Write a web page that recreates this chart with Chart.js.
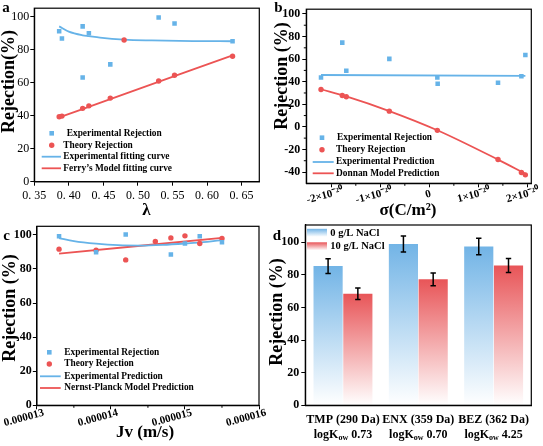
<!DOCTYPE html>
<html><head><meta charset="utf-8">
<script src="https://cdn.jsdelivr.net/npm/chart.js@4.4.0/dist/chart.umd.min.js"></script>
<style>
html,body{margin:0;padding:0;background:#fff;overflow:hidden}
#wrap{position:relative;width:543px;height:446px;background:#fff}
canvas{position:absolute;left:0;top:0}
</style></head><body>
<div id="wrap">
<canvas id="ca" width="543" height="446"></canvas>
<canvas id="cb" width="543" height="446"></canvas>
<canvas id="cc" width="543" height="446"></canvas>
<canvas id="cd" width="543" height="446"></canvas>
</div>
<script>
const W = 543, H = 446;
const SERIF = '"Liberation Serif","Times New Roman",serif';
const BLUE = '#66B3E8', RED = '#EC5454';

// ---------- Panel a ----------
const aExpLambda = [0.386, 0.390, 0.420, 0.420, 0.429, 0.460, 0.530, 0.553, 0.637];
const aExpRej    = [91.0, 86.6, 94.0, 63.0, 89.9, 71.0, 99.4, 95.7, 85.0];
const aTheoLambda = [0.386, 0.390, 0.420, 0.429, 0.460, 0.480, 0.530, 0.553, 0.637];
const aTheoRej    = [39.3, 39.7, 44.4, 45.9, 50.6, 85.8, 60.9, 64.4, 75.9];
const aExpFitLambda = [0.386, 0.400, 0.420, 0.429, 0.445, 0.480, 0.520, 0.580, 0.637];
const aExpFitRej    = [94.0, 90.8, 88.6, 88.1, 87.2, 86.0, 85.5, 85.1, 85.0];
const aFerryLambda = [0.386, 0.460, 0.637];
const aFerryRej    = [38.9, 50.0, 76.5];
const aXTicks = [0.35, 0.40, 0.45, 0.50, 0.55, 0.60, 0.65];
const aXTickLabels = ['0. 35', '0. 40', '0. 45', '0. 50', '0. 55', '0. 60', '0. 65'];
const yTicks100 = [0, 20, 40, 60, 80, 100];

// ---------- Panel b (sigma in units of 1e-20 C/m2) ----------
const bExpSigma = [-2.21, -1.776, -1.694, -0.816, 0.163, 0.170, 1.401, 1.878, 1.959];
const bExpRej   = [43.8, 74.6, 49.7, 60.2, 43.8, 38.1, 39.0, 44.9, 63.6];
const bTheoSigma = [-2.21, -1.776, -1.694, -0.816, 0.163, 1.401, 1.878, 1.959];
const bTheoRej   = [33.1, 27.8, 26.6, 13.9, -3.1, -28.9, -40.5, -42.5];
const bExpPredSigma = [-2.21, 1.959];
const bExpPredRej   = [45.9, 45.1];
const bDonnanSigma = [-2.21, -1.694, -0.816, 0.163, 1.401, 1.959];
const bDonnanRej   = [33.3, 27.0, 14.0, -3.0, -29.0, -41.5];
const bXTicks = [-2, -1, 0, 1, 2];
const bXTickLabels = ['-2×10⁻²⁰', '-1×10⁻²⁰', '0\u2002\u2002', '1×10⁻²⁰', '2×10⁻²⁰'];
const bYTicks = [-40, -20, 0, 20, 40, 60, 80, 100];

// ---------- Panel c ----------
const cExpJv  = [1.330e-5, 1.380e-5, 1.420e-5, 1.481e-5, 1.500e-5, 1.520e-5, 1.550e-5];
const cExpRej = [99.2, 89.8, 100.2, 88.5, 94.9, 99.2, 95.7];
const cTheoJv  = [1.330e-5, 1.380e-5, 1.420e-5, 1.460e-5, 1.481e-5, 1.500e-5, 1.520e-5, 1.550e-5];
const cTheoRej = [91.6, 91.0, 85.3, 96.1, 98.2, 99.4, 94.9, 97.8];
const cExpPredJv  = [1.33e-5, 1.35e-5, 1.38e-5, 1.41e-5, 1.44e-5, 1.47e-5, 1.50e-5, 1.53e-5, 1.55e-5];
const cExpPredRej = [98.0, 96.3, 94.8, 93.9, 93.7, 94.1, 94.9, 95.9, 96.9];
const cNPJv  = [1.33e-5, 1.55e-5];
const cNPRej = [89.0, 98.2];
const cXTicks = [1.3e-5, 1.4e-5, 1.5e-5, 1.6e-5];
const cXTickLabels = ['0.000013', '0.000014', '0.000015', '0.000016'];

// ---------- Panel d ----------
const dCats = ['TMP (290 Da)', 'ENX (359 Da)', 'BEZ (362 Da)'];
const dLogKow = ['0.73', '0.70', '4.25'];
const dSeriesNames = ['0 g/L NaCl', '10 g/L NaCl'];
const d0   = [85.4, 99.0, 97.4];
const d0Err = [4.5, 4.9, 5.0];
const d10  = [68.4, 77.3, 85.7];
const d10Err = [3.5, 3.9, 4.3];

function pts(xs, ys) { return xs.map((x, i) => ({x: x, y: ys[i]})); }

function decoPlugin(cfg) {
  return {
    id: 'deco',
    afterDraw(chart) {
      const c = chart.ctx, a = chart.chartArea;
      c.save();
      c.strokeStyle = '#000'; c.lineWidth = 1.2;
      c.strokeRect(a.left, a.top, a.right - a.left, a.bottom - a.top);
      c.lineWidth = 1;
      const drawMinor = (scale, horiz) => {
        const t = scale.ticks.map(o => o.value);
        for (let i = 0; i < t.length - 1; i++) {
          const v = (t[i] + t[i + 1]) / 2;
          const p = scale.getPixelForValue(v);
          c.beginPath();
          if (horiz) { c.moveTo(p, a.bottom); c.lineTo(p, a.bottom + 2.5); }
          else { c.moveTo(a.left, p); c.lineTo(a.left - 2.5, p); }
          c.stroke();
        }
      };
      if (cfg.minorX) drawMinor(chart.scales.x, true);
      if (cfg.minorY) drawMinor(chart.scales.y, false);
      c.fillStyle = '#000'; c.textAlign = 'center'; c.textBaseline = 'middle';
      c.font = 'bold 15px ' + SERIF;
      c.fillText(cfg.letter, cfg.letterX, cfg.letterY);
      if (cfg.xTitle) {
        c.font = 'bold 17px ' + SERIF;
        c.fillText(cfg.xTitle, cfg.xTitleX, cfg.xTitleY);
      }
      c.save();
      c.translate(cfg.yTitleX, cfg.yTitleY); c.rotate(-Math.PI / 2);
      c.font = 'bold 18px ' + SERIF;
      c.fillText(cfg.yTitle, 0, 0);
      c.restore();
      (cfg.legend || []).forEach(it => {
        c.fillStyle = it.color; c.strokeStyle = it.color;
        if (it.type === 'rect') {
          c.fillRect(it.mx - 2.3, it.my - 2.3, 4.6, 4.6);
        } else if (it.type === 'circle') {
          c.beginPath(); c.arc(it.mx, it.my, 2.7, 0, Math.PI * 2); c.fill();
        } else if (it.type === 'line') {
          c.lineWidth = 1.8; c.beginPath(); c.moveTo(it.x1, it.my); c.lineTo(it.x2, it.my); c.stroke();
        } else if (it.type === 'grad') {
          const g = c.createLinearGradient(0, it.my - 4, 0, it.my + 4);
          g.addColorStop(0, it.color); g.addColorStop(1, '#ffffff');
          c.fillStyle = g; c.fillRect(it.x1, it.my - 4, it.x2 - it.x1, 8);
        }
        c.fillStyle = '#000'; c.textAlign = 'left'; c.textBaseline = 'middle';
        c.font = 'bold ' + (it.size || 9.4) + 'px ' + SERIF;
        c.fillText(it.label, it.tx, it.my);
      });
      if (cfg.extra) cfg.extra(chart, c);
      c.restore();
    }
  };
}

function axisCommon(extra) {
  return Object.assign({
    grid: {display: true, drawOnChartArea: false, drawTicks: true, tickLength: 4, color: '#000', lineWidth: 1},
    border: {display: true, color: '#000', width: 1.2}
  }, extra);
}

function makeScatter(id, rect, xo, yo, datasets, deco) {
  return new Chart(document.getElementById(id), {
    type: 'scatter',
    data: {datasets: datasets},
    options: {
      responsive: false, animation: false, events: [],
      layout: {padding: {left: 0, top: rect.T, right: W - rect.R, bottom: 0}},
      plugins: {legend: {display: false}, tooltip: {enabled: false}},
      scales: {
        x: axisCommon({
          type: 'linear', min: xo.min, max: xo.max,
          afterFit: s => { s.height = H - rect.B; },
          afterBuildTicks: s => { s.ticks = xo.ticks.map(v => ({value: v})); },
          ticks: {autoSkip: false, minRotation: xo.rot || 0, maxRotation: xo.rot || 0,
                  labelOffset: xo.off || 0,
                  callback: (v, i) => xo.labels[i], color: '#000', padding: xo.pad,
                  font: {family: SERIF, size: xo.size || 12, weight: xo.weight || 'normal'}}
        }),
        y: axisCommon({
          type: 'linear', min: yo.min, max: yo.max,
          afterFit: s => { s.width = rect.L; },
          afterBuildTicks: s => { s.ticks = yo.ticks.map(v => ({value: v})); },
          ticks: {autoSkip: false, callback: v => String(v), color: '#000', padding: yo.pad || 1,
                  font: {family: SERIF, size: 12, weight: yo.weight || 'normal'}}
        })
      }
    },
    plugins: [decoPlugin(deco)]
  });
}

function ptSet(label, xs, ys, color, style, r) {
  return {label: label, data: pts(xs, ys), showLine: false, pointStyle: style,
          pointRadius: r, pointBackgroundColor: color, pointBorderColor: color, pointBorderWidth: 0};
}
function lineSet(label, xs, ys, color) {
  return {label: label, data: pts(xs, ys), showLine: true, pointRadius: 0, borderColor: color,
          borderWidth: 1.8, tension: 0.4, cubicInterpolationMode: 'monotone', fill: false};
}

// Panel a
makeScatter('ca', {L: 34.3, T: 1.7, R: 259.3, B: 181.7},
  {min: 0.35, max: 0.6757, ticks: aXTicks, labels: aXTickLabels, pad: 3},
  {min: 0, max: 105, ticks: yTicks100},
  [ptSet('Experimental Rejection', aExpLambda, aExpRej, BLUE, 'rect', 3.2),
   ptSet('Theory Rejection', aTheoLambda, aTheoRej, RED, 'circle', 2.7),
   lineSet('Experimental fitting curve', aExpFitLambda, aExpFitRej, BLUE),
   lineSet("Ferry's Model fitting curve", aFerryLambda, aFerryRej, RED)],
  {letter: 'a', letterX: 6, letterY: 8.5, xTitle: 'λ', xTitleX: 146.5, xTitleY: 211,
   yTitle: 'Rejection(%)', yTitleX: 9.5, yTitleY: 81.5,
   legend: [
     {type: 'rect', color: BLUE, mx: 51.7, my: 133.3, tx: 66.7, label: 'Experimental Rejection'},
     {type: 'circle', color: RED, mx: 51.7, my: 145.3, tx: 63.3, label: 'Theory Rejection'},
     {type: 'line', color: BLUE, x1: 41.7, x2: 61, my: 156.7, tx: 63.3, label: 'Experimental fitting curve'},
     {type: 'line', color: RED, x1: 41.7, x2: 61, my: 168.3, tx: 63.3, label: 'Ferry’s Model fitting curve'}
   ]});

// Panel b
makeScatter('cb', {L: 306.3, T: 1.7, R: 531.3, B: 183.3},
  {min: -2.51, max: 2.08, ticks: bXTicks, labels: bXTickLabels, rot: 15, weight: 'bold', size: 11, pad: -3, off: 12},
  {min: -50, max: 104.2, ticks: bYTicks, weight: 'bold', pad: 2},
  [ptSet('Experimental Rejection', bExpSigma, bExpRej, BLUE, 'rect', 3.2),
   ptSet('Theory Rejection', bTheoSigma, bTheoRej, RED, 'circle', 2.7),
   lineSet('Experimental Prediction', bExpPredSigma, bExpPredRej, BLUE),
   lineSet('Donnan Model Prediction', bDonnanSigma, bDonnanRej, RED)],
  {letter: 'b', letterX: 278.5, letterY: 8, xTitle: 'σ(C/m²)', xTitleX: 408, xTitleY: 211,
   yTitle: 'Rejection (%)', yTitleX: 282, yTitleY: 76, minorX: true, minorY: true,
   legend: [
     {type: 'rect', color: BLUE, mx: 322, my: 137.7, tx: 337, label: 'Experimental Rejection'},
     {type: 'circle', color: RED, mx: 322, my: 149.7, tx: 336, label: 'Theory Rejection'},
     {type: 'line', color: BLUE, x1: 312.7, x2: 333.7, my: 162, tx: 336, label: 'Experimental Prediction'},
     {type: 'line', color: RED, x1: 312.7, x2: 333.7, my: 173.3, tx: 336, label: 'Donnan Model Prediction'}
   ]});

// Panel c
makeScatter('cc', {L: 35.5, T: 226.3, R: 259, B: 405.3},
  {min: 1.3e-5, max: 1.6e-5, ticks: cXTicks, labels: cXTickLabels, rot: 15, weight: 'bold', size: 11, pad: -3, off: 7},
  {min: 0, max: 105, ticks: yTicks100, weight: 'bold', pad: 1},
  [ptSet('Experimental Rejection', cExpJv, cExpRej, BLUE, 'rect', 3.2),
   ptSet('Theory Rejection', cTheoJv, cTheoRej, RED, 'circle', 2.7),
   lineSet('Experimental Prediction', cExpPredJv, cExpPredRej, BLUE),
   lineSet('Nernst-Planck Model Prediction', cNPJv, cNPRej, RED)],
  {letter: 'c', letterX: 6.5, letterY: 236, xTitle: 'Jv (m/s)', xTitleX: 145, xTitleY: 433,
   yTitle: 'Rejection (%)', yTitleX: 10.5, yTitleY: 308, minorX: true,
   legend: [
     {type: 'rect', color: BLUE, mx: 49.3, my: 352.3, tx: 64.3, label: 'Experimental Rejection'},
     {type: 'circle', color: RED, mx: 49.3, my: 364, tx: 64.3, label: 'Theory Rejection'},
     {type: 'line', color: BLUE, x1: 40, x2: 60.7, my: 376.3, tx: 64.3, label: 'Experimental Prediction'},
     {type: 'line', color: RED, x1: 40, x2: 60.7, my: 388, tx: 64.3, label: 'Nernst-Planck Model Prediction'}
   ]});

// Panel d
const DBLUE = '#72B4E6', DRED = '#E85558';
function barGrad(color) {
  return ctx => {
    const chart = ctx.chart, area = chart.chartArea, ys = chart.scales.y;
    if (!area || !ys || ctx.raw === undefined) return color;
    const top = ys.getPixelForValue(ctx.raw);
    if (!isFinite(top)) return color;
    const g = chart.ctx.createLinearGradient(0, top, 0, area.bottom);
    g.addColorStop(0, color);
    g.addColorStop(1, '#ffffff');
    return g;
  };
}
const dRect = {L: 305.3, T: 225, R: 531.3, B: 405.3};
const errPlugin = {
  id: 'errbars',
  afterDatasetsDraw(chart) {
    const c = chart.ctx, ys = chart.scales.y;
    const errs = [d0Err, d10Err];
    c.save(); c.strokeStyle = '#000'; c.lineWidth = 1.5;
    chart.data.datasets.forEach((ds, i) => {
      chart.getDatasetMeta(i).data.forEach((el, j) => {
        const v = ds.data[j], e = errs[i][j];
        const y1 = ys.getPixelForValue(v + e), y2 = ys.getPixelForValue(v - e), x = el.x;
        c.beginPath();
        c.moveTo(x, y1); c.lineTo(x, y2);
        c.moveTo(x - 2.7, y1); c.lineTo(x + 2.7, y1);
        c.moveTo(x - 2.7, y2); c.lineTo(x + 2.7, y2);
        c.stroke();
      });
    });
    c.restore();
  }
};
new Chart(document.getElementById('cd'), {
  type: 'bar',
  data: {labels: dCats, datasets: [
    {label: dSeriesNames[0], data: d0, backgroundColor: barGrad(DBLUE), borderWidth: 0, categoryPercentage: 0.79, barPercentage: 0.98},
    {label: dSeriesNames[1], data: d10, backgroundColor: barGrad(DRED), borderWidth: 0, categoryPercentage: 0.79, barPercentage: 0.98}
  ]},
  options: {
    responsive: false, animation: false, events: [],
    layout: {padding: {left: 0, top: dRect.T, right: W - dRect.R, bottom: 0}},
    plugins: {legend: {display: false}, tooltip: {enabled: false}},
    scales: {
      x: {afterFit: s => { s.height = H - dRect.B; }, ticks: {display: false},
          grid: {display: false}, border: {display: true, color: '#000', width: 1.2}},
      y: axisCommon({min: 0, max: 110.6,
          afterFit: s => { s.width = dRect.L; },
          afterBuildTicks: s => { s.ticks = yTicks100.map(v => ({value: v})); },
          ticks: {autoSkip: false, callback: v => String(v), color: '#000', padding: 2,
                  font: {family: SERIF, size: 12, weight: 'bold'}}})
    }
  },
  plugins: [errPlugin, decoPlugin({
    letter: 'd', letterX: 277, letterY: 236.5, yTitle: 'Rejection (%)', yTitleX: 277, yTitleY: 312,
    legend: [
      {type: 'grad', color: DBLUE, x1: 307, x2: 327, my: 232.8, tx: 330.3, label: dSeriesNames[0], size: 10.5},
      {type: 'grad', color: DRED, x1: 307, x2: 327, my: 246.3, tx: 330.3, label: dSeriesNames[1], size: 10.5}
    ],
    extra: (chart, c) => {
      const xs = chart.scales.x;
      dCats.forEach((cat, i) => {
        const cx = xs.getPixelForValue(i);
        c.fillStyle = '#000'; c.textBaseline = 'middle'; c.textAlign = 'center';
        c.font = 'bold 12px ' + SERIF;
        c.fillText(cat, cx, 419.7);
        const big = 'bold 12px ' + SERIF, small = 'bold 8px ' + SERIF;
        c.font = big; const w1 = c.measureText('logK').width; const w3 = c.measureText(' ' + dLogKow[i]).width;
        c.font = small; const w2 = c.measureText('ow').width;
        let x0 = cx - (w1 + w2 + w3) / 2;
        c.textAlign = 'left';
        c.font = big; c.fillText('logK', x0, 434.7);
        c.font = small; c.fillText('ow', x0 + w1, 438);
        c.font = big; c.fillText(' ' + dLogKow[i], x0 + w1 + w2, 434.7);
      });
    }
  })]
});
</script>
</body></html>
